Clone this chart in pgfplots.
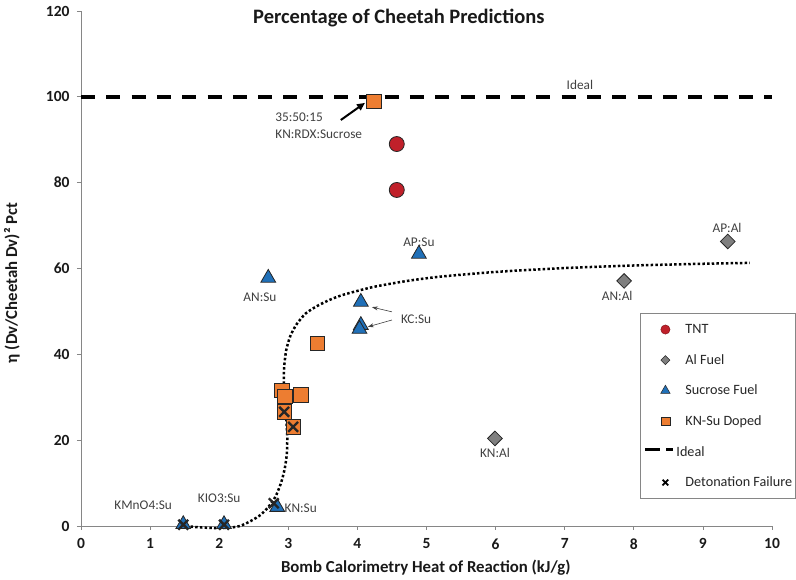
\documentclass[border=0pt]{standalone}
\usepackage{fontspec}
\setmainfont{Carlito}
\usepackage{pgfplots}
\pgfplotsset{compat=1.18}
\usetikzlibrary{arrows.meta}
\definecolor{tntred}{HTML}{C0202A}
\definecolor{algray}{HTML}{7F7F7F}
\definecolor{sublue}{HTML}{2070B8}
\definecolor{knorange}{HTML}{ED7D31}
\definecolor{edge}{HTML}{262626}
\definecolor{lbl}{HTML}{404040}
\definecolor{axgray}{HTML}{868686}
\pgfplotsset{mylegend/.style={legend image code/.code={\path[draw=none,fill=none] (-22pt,-6pt) rectangle (20pt,6pt); \draw[##1] plot coordinates {(0pt,0pt)};}}}
\begin{document}
\begin{tikzpicture}[x=1pt,y=1pt]
\useasboundingbox (-81,-54) rectangle (715,526);
\begin{axis}[
  at={(0,0)}, anchor=south west,
  scale only axis, width=691pt, height=515pt,
  xmin=0, xmax=10, ymin=0, ymax=120,
  xtick={0,1,...,10}, ytick={0,20,...,120},
  xticklabels={\textbf{0},\textbf{1},\textbf{2},\textbf{3},\textbf{4},\textbf{5},\textbf{6},\textbf{7},\textbf{8},\textbf{9},\textbf{10}},
  yticklabels={\textbf{0},\textbf{20},\textbf{40},\textbf{60},\textbf{80},\textbf{100},\textbf{120}},
  axis x line=bottom, axis y line=left,
  axis line style={-, draw=axgray, line width=0.8pt},
  tick style={draw=axgray, line width=0.8pt},
  tick align=outside, major tick length=4pt,
  every tick label/.append style={font=\fontsize{15.5}{17}\selectfont, text=black!90},
  xticklabel style={yshift=-5pt},
  yticklabel style={xshift=-4pt},
  clip=false,
  legend cell align=left,
  legend style={at={(axis cs:8.09,49.6)}, anchor=north west, draw=axgray, line width=0.8pt,
    font=\fontsize{14.2}{15}\selectfont, text=edge, row sep=18.6pt, column sep=0pt,
    inner xsep=3pt, inner ysep=10pt, nodes={inner sep=0pt}},
]
% Ideal line
\addplot[forget plot, black, line width=3.5pt, dash pattern=on 14pt off 11.3pt] coordinates {(0,100) (10,100)};
% TNT
\addplot[forget plot, only marks, mark=*, mark size=7.5, mark options={fill=tntred, draw=edge, line width=0.8pt}] coordinates {
(4.57,89.0) (4.57,78.3)};
% Al fuel
\addplot[forget plot, only marks, mark=square*, mark size=5.2, mark options={rotate=45, fill=algray, draw=edge, line width=0.8pt}] coordinates {
(9.36,66.3) (7.86,57.1) (5.99,20.4)};
% Sucrose fuel
\addplot[forget plot, only marks, mark=triangle*, mark size=8.5, mark options={fill=sublue, draw=edge, line width=0.8pt}] coordinates {
(4.89,63.4) (2.71,57.8) (4.05,52.2) (4.05,46.8) (4.03,45.9) (2.84,4.4) (2.07,0.4) (1.48,0.4)};
% KN-Su doped
\addplot[forget plot, only marks, mark=square*, mark size=7.2, mark options={fill=knorange, draw=edge, line width=0.8pt}] coordinates {
(4.24,99.0) (3.42,42.5) (2.91,31.6) (2.95,30.2) (3.18,30.5) (2.94,26.6) (3.07,23.1)};
% Trend
\addplot[forget plot, black, line width=2.5pt, dash pattern=on 2.5pt off 2.2pt, smooth, tension=0.4] coordinates {
(1.45,0.1) (1.7,-0.3) (1.95,-0.5) (2.15,-0.4) (2.3,0) (2.45,1.1) (2.6,2.6) (2.72,4.6) (2.82,7) (2.9,10.3) (2.95,13.5) (2.98,17) (2.985,21) (2.97,25) (2.95,29) (2.935,33) (2.94,37) (2.97,41) (3.03,44.3) (3.12,47) (3.25,49.5) (3.41,51.2) (3.6,52.7) (3.8,53.9) (4.23,55.7) (4.72,57.1) (5.2,58.1) (6,59.2) (7,60.1) (8,60.7) (9,61.1) (9.68,61.3)};
% Detonation failure
\addplot[forget plot, only marks, mark=x, mark size=7, mark options={draw=edge, line width=2.4pt}] coordinates {
(2.94,26.6) (3.07,23.1) (2.79,5.3) (2.07,0.3) (1.48,0.3)};
% Legend
\addlegendimage{mylegend, only marks, mark=*, mark size=4.6, mark options={fill=tntred, draw=tntred!70!black, line width=0.5pt}}
\addlegendentry{TNT}
\addlegendimage{mylegend, only marks, mark=square*, mark size=3.2, mark options={rotate=45, fill=algray, draw=edge, line width=0.5pt}}
\addlegendentry{Al Fuel}
\addlegendimage{mylegend, only marks, mark=triangle*, mark size=5.5, mark options={fill=sublue, draw=edge, line width=0.5pt}}
\addlegendentry{Sucrose Fuel}
\addlegendimage{mylegend, only marks, mark=square*, mark size=4.4, mark options={fill=knorange, draw=edge, line width=0.5pt}}
\addlegendentry{KN-Su Doped}
\addlegendimage{legend image code/.code={\path[draw=none,fill=none] (-22pt,-6pt) rectangle (20pt,6pt); \draw[black, line width=3.2pt] (-20pt,0) -- (-5pt,0) (1pt,0) -- (8pt,0);}}
\addlegendentry{\hspace*{-9pt}Ideal}
\addlegendimage{mylegend, only marks, mark=x, mark size=4, mark options={draw=black, line width=1.8pt}}
\addlegendentry{Detonation Failure}
% Texts
\node[font=\bfseries\fontsize{20.5}{23}\selectfont, text=black!90] at (axis cs:4.60,118.4) {Percentage of Cheetah Predictions};
\node[font=\bfseries\fontsize{16.8}{19}\selectfont, text=black!90, rotate=90] at (axis cs:-1.0,56.6) {η  (Dv/Cheetah Dv)² Pct};
\node[font=\bfseries\fontsize{16.8}{19}\selectfont, text=black!90] at (axis cs:4.99,-9.8) {Bomb Calorimetry Heat of Reaction (kJ/g)};
\begin{scope}[every node/.style={font=\fontsize{13.3}{15}\selectfont, text=lbl, inner sep=0pt}]
\node at (axis cs:7.22,102.8) {Ideal};
\node[anchor=west] at (axis cs:2.81,95.3) {35:50:15};
\node[anchor=west] at (axis cs:2.81,91.3) {KN:RDX:Sucrose};
\node at (axis cs:4.89,66.2) {AP:Su};
\node at (axis cs:2.59,53.4) {AN:Su};
\node at (axis cs:4.85,48.2) {KC:Su};
\node at (axis cs:9.35,69.4) {AP:Al};
\node at (axis cs:7.76,53.6) {AN:Al};
\node at (axis cs:5.99,17.0) {KN:Al};
\node at (axis cs:0.90,4.9) {KMnO4:Su};
\node at (axis cs:2.0,6.5) {KIO3:Su};
\node at (axis cs:3.18,4.2) {KN:Su};
\end{scope}
\draw[black, line width=2pt, -{Triangle[length=8pt,width=7pt]}] (axis cs:3.76,94.6) -- (axis cs:4.11,98.6);
\draw[lbl, line width=0.6pt, -{Stealth[length=6pt,width=4pt]}] (axis cs:4.50,49.9) -- (axis cs:4.21,51.0);
\draw[lbl, line width=0.6pt, -{Stealth[length=6pt,width=4pt]}] (axis cs:4.50,48.0) -- (axis cs:4.15,46.4);
\end{axis}
\end{tikzpicture}
\end{document}
